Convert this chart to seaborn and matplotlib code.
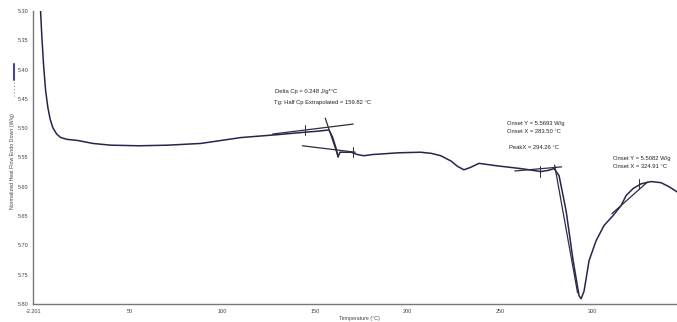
import numpy as np
import pandas as pd
import matplotlib
matplotlib.use("Agg")
import matplotlib.pyplot as plt
import seaborn as sns
from matplotlib.lines import Line2D

# ---- data ----
temperature = [1.8, 2.5, 3.5, 4.5, 5.7, 7, 8.4, 10.5, 12.7, 16, 21.9, 30, 39.7, 55, 70.5,
               88.4, 110, 130, 144, 152, 157.6, 159.5, 161.5, 162.5, 163.5, 166, 169.5,
               173, 176.5, 181, 185.7, 195, 207, 213, 218, 223.5, 227, 230.5, 234, 238.6,
               247.8, 261.4, 272.2, 276, 279.2, 281.9, 285.7, 289.5, 292.7, 293.8, 295.4,
               298.1, 301.9, 306.2, 311.1, 315.4, 318.1, 321.9, 326.2, 331.6, 337, 341.4,
               346.3, 350]
heat_flow = [5.300, 5.345, 5.396, 5.435, 5.464, 5.485, 5.499, 5.510, 5.516, 5.519, 5.521,
             5.526, 5.529, 5.530, 5.529, 5.526, 5.516, 5.511, 5.507, 5.505, 5.503, 5.515,
             5.535, 5.549, 5.541, 5.541, 5.541, 5.545, 5.547, 5.545, 5.544, 5.542, 5.541,
             5.543, 5.547, 5.556, 5.565, 5.571, 5.567, 5.560, 5.564, 5.569, 5.574, 5.572,
             5.569, 5.581, 5.641, 5.726, 5.786, 5.791, 5.778, 5.726, 5.692, 5.666, 5.649,
             5.632, 5.615, 5.603, 5.595, 5.591, 5.593, 5.600, 5.610, 5.614]

# tangent / analysis lines (T, y pairs)
tg_upper_T = [127.1, 170.7]
tg_upper_y = [5.510, 5.493]
tg_steep_T = [155.6, 162.6]
tg_steep_y = [5.483, 5.549]
tg_lower_T = [143.2, 171.8]
tg_lower_y = [5.530, 5.541]
peak_base_T = [258.0, 283.3]
peak_base_y = [5.573, 5.566]
peak_steep_T = [279.5, 291.9]
peak_steep_y = [5.563, 5.781]
onset2_T = [310.4, 329.6]
onset2_y = [5.646, 5.592]
tick_T = [144.6, 170.7, 271.4, 325.3]
tick_y = [5.503, 5.541, 5.574, 5.595]

x_ticks = [-2.201, 50, 100, 150, 200, 250, 300, 350]
x_tick_labels = ["-2.201", "50", "100", "150", "200", "250", "300", "350"]
y_ticks = [5.30, 5.35, 5.40, 5.45, 5.50, 5.55, 5.60, 5.65, 5.70, 5.75, 5.80]
y_tick_labels = ["5.30", "5.35", "5.40", "5.45", "5.50", "5.55", "5.60", "5.65",
                 "5.70", "5.75", "5.80"]

annotations = [
    ("Delta Cp = 0.248 J/g*°C", 128.5, 5.437),
    ("Tg: Half Cp Extrapolated = 159.82 °C", 128.0, 5.456),
    ("Onset Y = 5.5693 W/g", 254.0, 5.492),
    ("Onset X = 283.50 °C", 254.0, 5.506),
    ("PeakX = 294.26 °C", 255.0, 5.533),
    ("Onset Y = 5.5082 W/g", 311.0, 5.551),
    ("Onset X = 324.91 °C", 311.0, 5.565),
]

# ---- figure ----
sns.set_style("white")
plt.rcParams['font.family'] = ['Liberation Sans', 'DejaVu Sans']

fig = plt.figure(figsize=(6.77, 3.22), dpi=100)
ax = fig.add_axes([0.049, 0.0559, 0.963, 0.910])

df = pd.DataFrame({"Temperature": temperature, "HeatFlow": heat_flow})
line_color = "#25254f"
sns.lineplot(data=df, x="Temperature", y="HeatFlow", ax=ax, color=line_color,
             linewidth=1.1, sort=False)

lc = "#2e2e3a"
for T, y in [(tg_upper_T, tg_upper_y), (tg_steep_T, tg_steep_y), (tg_lower_T, tg_lower_y),
             (peak_base_T, peak_base_y), (peak_steep_T, peak_steep_y), (onset2_T, onset2_y)]:
    ax.plot(T, y, color=lc, linewidth=0.9)
for T, y in zip(tick_T, tick_y):
    ax.plot([T, T], [y - 0.009, y + 0.009], color=lc, linewidth=0.7)

for txt, x, y in annotations:
    ax.text(x, y, txt, fontsize=4.2, color="#222222", ha="left", va="center")

ax.set_xlim(-2.201, 350)
ax.set_ylim(5.80, 5.30)
ax.set_xticks(x_ticks)
ax.set_xticklabels(x_tick_labels)
ax.set_yticks(y_ticks)
ax.set_yticklabels(y_tick_labels)
ax.tick_params(axis="both", labelsize=4.0, colors="#444444", length=2.5, width=0.5,
               direction="inout", pad=2)
for s in ["top", "right"]:
    ax.spines[s].set_visible(False)
for s in ["left", "bottom"]:
    ax.spines[s].set_color("#777777")
    ax.spines[s].set_linewidth(1.0)

ax.set_xlabel("Temperature (°C)", fontsize=3.8, color="#444444", labelpad=1.5)
ax.set_ylabel("")
fig.text(0.019, 0.50, "Normalized Heat Flow Endo Down (W/g)", rotation=90,
         fontsize=3.8, color="#444444", ha="center", va="center")
fig.add_artist(Line2D([0.021, 0.021], [1 - 64 / 322, 1 - 80 / 322], color="#4a4a8a",
                      linewidth=1.5))
fig.add_artist(Line2D([0.021, 0.021], [1 - 82 / 322, 1 - 96 / 322], color="#8888aa",
                      linewidth=0.8, linestyle=(0, (1, 2))))

fig.savefig("out.png", dpi=100)
